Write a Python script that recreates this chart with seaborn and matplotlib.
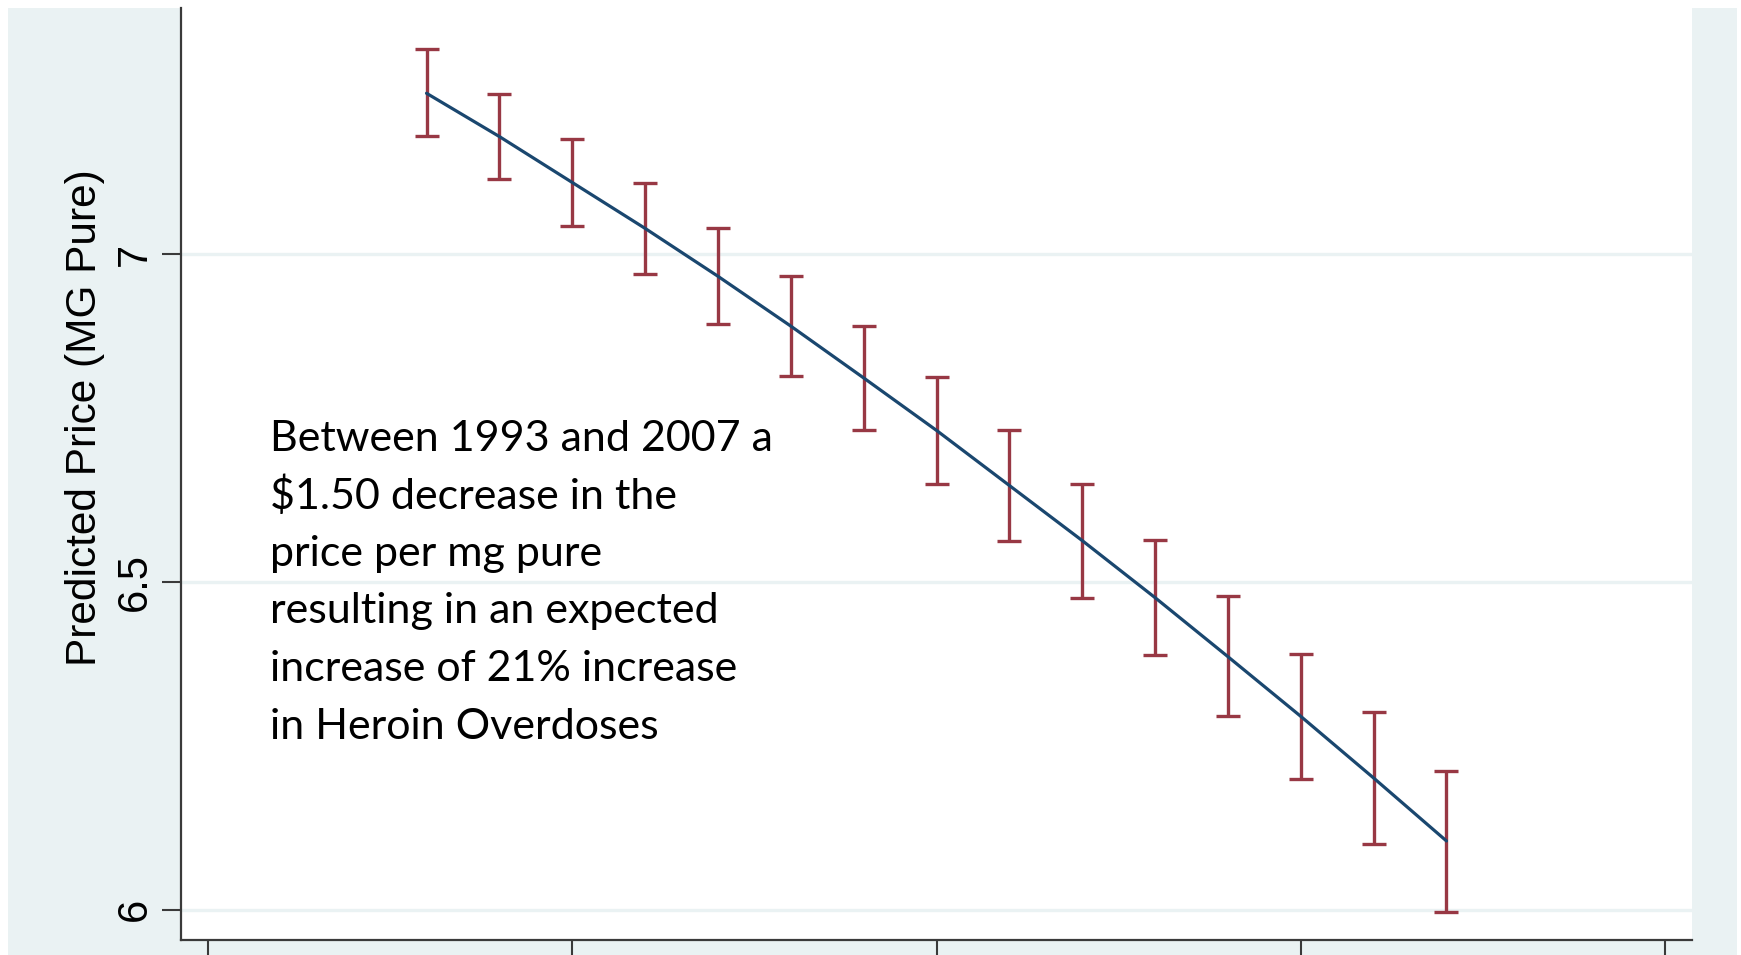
import matplotlib
matplotlib.use("Agg")
import matplotlib.pyplot as plt
from matplotlib.patches import Rectangle
import numpy as np
import pandas as pd
import seaborn as sns

# Predicted price per mg pure, by year, with 95% confidence limits
years = [1993, 1994, 1995, 1996, 1997, 1998, 1999, 2000,
         2001, 2002, 2003, 2004, 2005, 2006, 2007]
predicted = [7.245, 7.179, 7.109, 7.039, 6.966, 6.890, 6.811, 6.731,
             6.647, 6.563, 6.476, 6.386, 6.295, 6.201, 6.105]
ci_lower = [7.180, 7.114, 7.042, 6.969, 6.893, 6.814, 6.732, 6.649,
            6.563, 6.476, 6.388, 6.295, 6.200, 6.100, 5.997]
ci_upper = [7.312, 7.244, 7.176, 7.108, 7.039, 6.966, 6.890, 6.812,
            6.732, 6.649, 6.564, 6.478, 6.390, 6.302, 6.212]

y_ticks = [6, 6.5, 7]
y_tick_labels = ["6", "6.5", "7"]
x_ticks = [1990, 1995, 2000, 2005, 2010]
y_label = "Predicted Price (MG Pure)"
note_lines = [
    "Between 1993 and 2007 a",
    "$1.50 decrease in the",
    "price per mg pure",
    "resulting in an expected",
    "increase of 21% increase",
    "in Heroin Overdoses",
]

df = pd.DataFrame({"year": years, "predicted": predicted,
                   "lower": ci_lower, "upper": ci_upper})

sns.set_theme(style="white")
plt.rcParams["font.family"] = ["Liberation Sans", "DejaVu Sans"]

NAVY = "#1A476F"
MAROON = "#983844"
BG = "#EAF2F3"
AXIS = "#3A3A3A"

W, H = 1741, 955
fig = plt.figure(figsize=(W / 100, H / 100), dpi=100, facecolor="white")
fig.patches.append(Rectangle((8 / W, 0), (1737 - 8) / W, (H - 8) / H,
                             transform=fig.transFigure, facecolor=BG,
                             edgecolor="none", zorder=-10))

ax = fig.add_axes([181 / W, (H - 940) / H, (1692 - 181) / W, (940 - 8) / H])
ax.set_zorder(1)
ax.set_facecolor("white")

# confidence-interval caps
yerr = np.vstack([df["predicted"] - df["lower"], df["upper"] - df["predicted"]])
ax.errorbar(df["year"], df["predicted"], yerr=yerr, fmt="none",
            ecolor=MAROON, elinewidth=2.4, capsize=8.3, capthick=2.4, zorder=3)

# fitted line
sns.lineplot(data=df, x="year", y="predicted", ax=ax, color=NAVY,
             linewidth=2.3, zorder=4)

ax.set_xlim(1989.63, 2010.37)
ax.set_ylim(5.954, 7.375)

ax.set_yticks(y_ticks)
ax.set_yticklabels(y_tick_labels)
ax.set_xticks(x_ticks)
ax.set_xticklabels([""] * len(x_ticks))
ax.set_xlabel("")

ax.yaxis.grid(True, color=BG, linewidth=2.4)
ax.xaxis.grid(False)
ax.set_axisbelow(True)

for side in ("top", "right"):
    ax.spines[side].set_visible(False)
for side in ("left", "bottom"):
    ax.spines[side].set_color(AXIS)
    ax.spines[side].set_linewidth(1.6)

ax.tick_params(axis="y", which="major", left=True, length=13.7, width=1.5,
               color=AXIS, labelsize=30, pad=5, labelcolor="black")
ax.tick_params(axis="x", which="major", bottom=True, length=14, width=1.5,
               color=AXIS)
for lbl in ax.get_yticklabels():
    lbl.set_rotation(90)
    lbl.set_va("center")

ax.set_ylabel(y_label, fontsize=30.5, color="black")
ax.yaxis.set_label_coords(-0.0503, (940 - 418) / 932)

# explanatory note
note_font = ["Lato", "DejaVu Sans"]
for i, line in enumerate(note_lines):
    baseline_px = 451 + i * 57.5
    fig.text(270 / W, 1 - baseline_px / H, line, fontsize=31,
             family=note_font, color="black", va="baseline", ha="left",
             zorder=5)

fig.savefig("out.png", dpi=100, facecolor="white")
